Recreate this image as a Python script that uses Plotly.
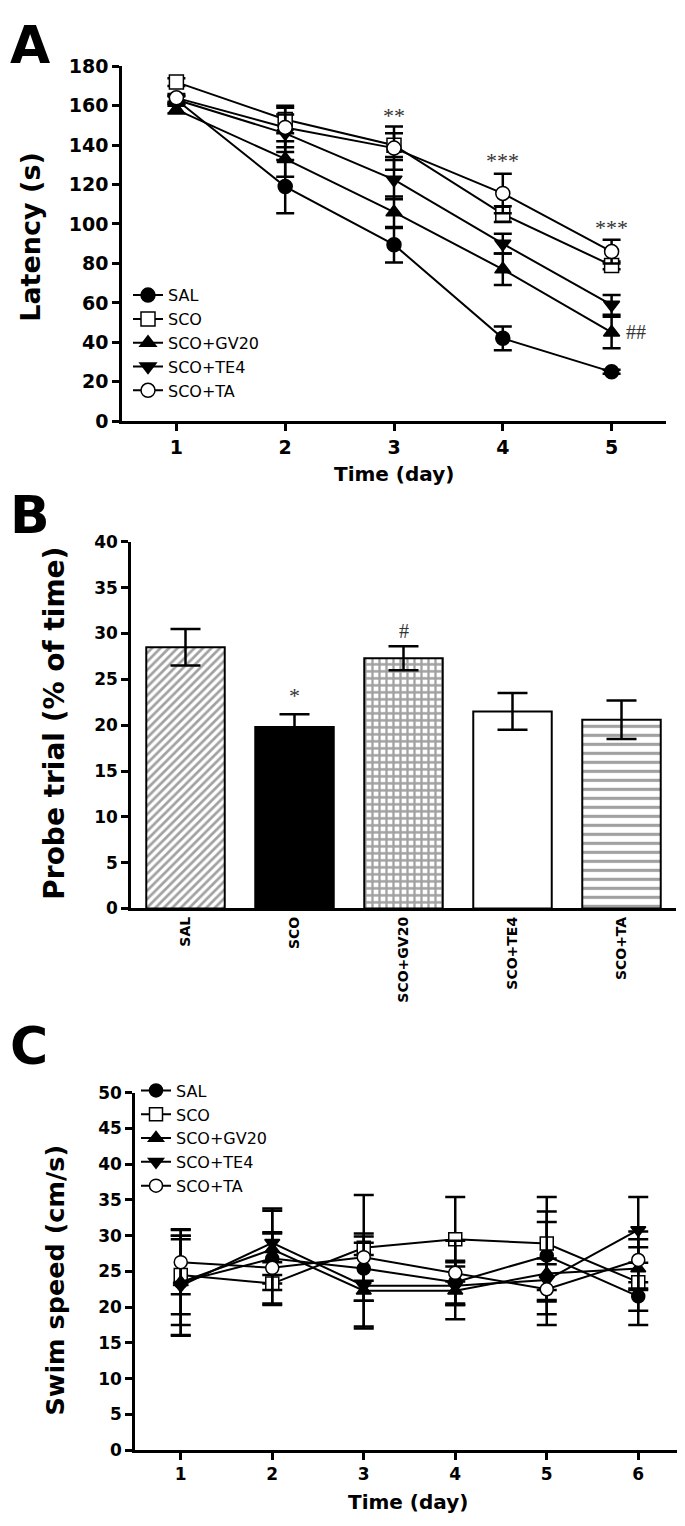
import plotly.graph_objects as go

W, H = 685, 1526

def px(x):
    return x / W

def py(y):
    return 1 - y / H

# ---------------- data ----------------
groups = ["SAL", "SCO", "SCO+GV20", "SCO+TE4", "SCO+TA"]

# Panel A: escape latency (s), days 1-5
days_a = [1, 2, 3, 4, 5]
lat_sal = [163, 119, 89.5, 42, 25]
lat_sal_err = [2, 13.5, 9, 6, 1]
lat_sco = [172, 153, 140, 105, 79]
lat_sco_err = [2, 7, 6, 4, 2]
lat_gv20 = [158, 133, 106, 77, 45]
lat_gv20_err = [2, 9, 8, 8, 8]
lat_te4 = [163, 146, 122.5, 90, 59]
lat_te4_err = [2, 9.5, 10, 5, 5]
lat_ta = [164, 149, 138.5, 115.5, 86]
lat_ta_err = [2, 10, 11, 10, 6]

# Panel B: probe trial (% of time)
probe = [28.5, 19.8, 27.3, 21.5, 20.6]
probe_err = [2.0, 1.4, 1.3, 2.0, 2.1]

# Panel C: swim speed (cm/s), days 1-6
days_c = [1, 2, 3, 4, 5, 6]
sw_sal = [23.5, 26.8, 25.4, 23.5, 27.2, 21.5]
sw_sal_err = [7.4, 3.5, 4.5, 3.0, 6.2, 2.0]
sw_sco = [24.5, 23.3, 28.3, 29.5, 28.9, 23.5]
sw_sco_err = [5.5, 3.0, 7.4, 5.9, 6.5, 6.0]
sw_gv20 = [23.5, 28.1, 22.3, 22.3, 24.7, 25.4]
sw_gv20_err = [6.0, 5.7, 5.0, 4.0, 7.2, 3.0]
sw_te4 = [23.0, 29.0, 23.0, 23.0, 23.8, 30.8]
sw_te4_err = [7.0, 4.5, 6.0, 2.7, 3.0, 4.6]
sw_ta = [26.3, 25.5, 27.0, 24.8, 22.5, 26.6]
sw_ta_err = [4.5, 5.0, 3.3, 4.5, 3.5, 4.0]

lat_series = [lat_sal, lat_sco, lat_gv20, lat_te4, lat_ta]
lat_errs = [lat_sal_err, lat_sco_err, lat_gv20_err, lat_te4_err, lat_ta_err]
sw_series = [sw_sal, sw_sco, sw_gv20, sw_te4, sw_ta]
sw_errs = [sw_sal_err, sw_sco_err, sw_gv20_err, sw_te4_err, sw_ta_err]

# ---------------- styles ----------------
symbols = ["circle", "square", "triangle-up", "triangle-down", "circle"]
fills = ["black", "white", "black", "black", "white"]

FONT = "DejaVu Sans"

fig = go.Figure()

for i, g in enumerate(groups):
    fig.add_trace(go.Scatter(
        x=days_a, y=lat_series[i], name=g, mode="lines+markers",
        xaxis="x", yaxis="y", legend="legend",
        line=dict(color="black", width=2),
        marker=dict(symbol=symbols[i], size=14, color=fills[i],
                    line=dict(color="black", width=1.5)),
        error_y=dict(type="data", array=lat_errs[i], color="black",
                     thickness=2.5, width=9),
    ))

fig.add_trace(go.Bar(
    x=groups, y=probe, xaxis="x2", yaxis="y2", showlegend=False, width=0.72,
    error_y=dict(type="data", array=probe_err, color="black", thickness=2.5, width=15),
    marker=dict(
        color=["white", "black", "white", "white", "white"],
        line=dict(color="black", width=2),
        pattern=dict(shape=["/", "", "+", "", "-"],
                     fgcolor=["#333333", "black", "black", "black", "black"],
                     bgcolor=["white", "black", "white", "white", "white"],
                     size=[6, 8, 7, 8, 9],
                     solidity=[0.45, 0.3, 0.55, 0.3, 0.35]),
    ),
))

for i, g in enumerate(groups):
    fig.add_trace(go.Scatter(
        x=days_c, y=sw_series[i], name=g, mode="lines+markers",
        xaxis="x3", yaxis="y3", legend="legend2",
        line=dict(color="black", width=2),
        marker=dict(symbol=symbols[i], size=13, color=fills[i],
                    line=dict(color="black", width=1.5)),
        error_y=dict(type="data", array=sw_errs[i], color="black",
                     thickness=2.5, width=10),
    ))

axis_common = dict(showline=True, linecolor="black", linewidth=2.5, ticks="outside",
                   ticklen=7, tickwidth=2.5, tickcolor="black", showgrid=False,
                   zeroline=False,
                   tickfont=dict(family=FONT, size=17, color="black", weight="bold"))

leg_common = dict(bgcolor="rgba(0,0,0,0)", font=dict(family=FONT, size=16, color="black"),
                  xanchor="left", yanchor="top", tracegroupgap=0, itemwidth=30)

fig.update_layout(
    width=W, height=H, margin=dict(l=0, r=0, t=0, b=0),
    paper_bgcolor="white", plot_bgcolor="white",
    xaxis=dict(axis_common, domain=[px(114), px(658)], range=[0.5, 5.5],
               tickvals=days_a, anchor="y",
               tickfont=dict(family=FONT, size=19, color="black", weight="bold")),
    yaxis=dict(axis_common, domain=[py(408), py(48)], range=[0, 180], dtick=20, anchor="x",
               tickfont=dict(family=FONT, size=19, color="black", weight="bold")),
    xaxis2=dict(axis_common, domain=[px(123), px(668)], range=[-0.5, 4.5], anchor="y2",
                ticks="", tickangle=-90,
                tickfont=dict(family=FONT, size=14, color="black", weight="bold")),
    yaxis2=dict(axis_common, domain=[py(902.5), py(530.5)], range=[0, 40], dtick=5, anchor="x2"),
    xaxis3=dict(axis_common, domain=[px(127), px(676)], range=[0.5, 6.5],
                tickvals=days_c, anchor="y3"),
    yaxis3=dict(axis_common, domain=[py(1452), py(1089.5)], range=[0, 50], dtick=5, anchor="x3"),
    legend=dict(leg_common, x=px(120), y=py(263)),
    legend2=dict(leg_common, x=px(128), y=py(1070)),
    bargap=0.28,
)

def note(text, x, y, size, family=FONT, angle=0, color="black", xanchor="center",
         xref="paper", yref="paper"):
    if xref == "paper":
        x = px(x)
    if yref == "paper":
        y = py(y)
    return dict(text=text, x=x, y=y, xref=xref, yref=yref, xanchor=xanchor,
                yanchor="middle", textangle=angle, showarrow=False,
                font=dict(family=family, size=size, color=color))

ann = []
# panel letters
ann.append(note("<b>A</b>", 0, 26, 52, xanchor="left"))
ann.append(note("<b>B</b>", 0, 503, 52, xanchor="left"))
ann.append(note("<b>C</b>", 0, 1042, 52, xanchor="left"))
# axis titles
ann.append(note("<b>Latency (s)</b>", 23, 221, 27, angle=-90))
ann.append(note("<b>Time (day)</b>", 386, 462, 20))
ann.append(note("<b>Probe trial (% of time)</b>", 47, 715, 28, angle=-90))
ann.append(note("<b>Swim speed (cm/s)</b>", 47, 1280, 25.5, angle=-90))
ann.append(note("<b>Time (day)</b>", 400, 1505, 20))
# significance marks
SERIF = "Liberation Serif"
ann.append(note("**", 3, 155, 22, family=SERIF, color="#333333", xref="x", yref="y"))
ann.append(note("***", 4, 132, 22, family=SERIF, color="#333333", xref="x", yref="y"))
ann.append(note("***", 5, 98, 22, family=SERIF, color="#333333", xref="x", yref="y"))
ann.append(note("##", 5.11, 45, 20, family=SERIF, color="#333333", xanchor="left",
                xref="x", yref="y"))
ann.append(note("*", "SCO", 23.2, 22, family=SERIF, color="#333333", xref="x2", yref="y2"))
ann.append(note("#", "SCO+GV20", 30.3, 20, family=SERIF, color="#333333", xref="x2", yref="y2"))
fig.update_layout(annotations=ann)

fig.write_html("out.html")
